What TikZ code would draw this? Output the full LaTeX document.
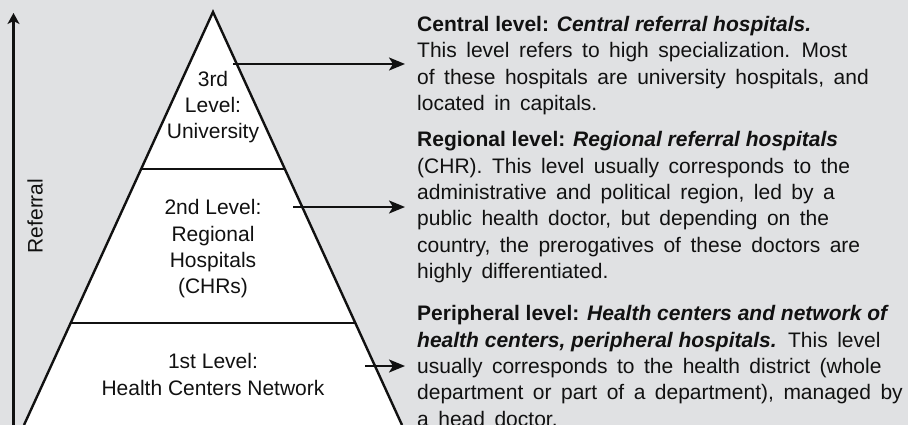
\documentclass[tikz,border=0pt]{standalone}
\usepackage{fontspec}
\setmainfont{Liberation Sans}
\usetikzlibrary{arrows.meta,calc}
\definecolor{bggray}{RGB}{224,225,227}
\definecolor{ink}{RGB}{17,17,17}
% body text with slightly wider word spacing
\newcommand\parafont{\fontsize{21}{26.3}\selectfont\spaceskip 9.5pt\relax}
% bold run-in headings keep the font's own word spacing
\newcommand\headrun[1]{{\spaceskip 0pt\relax\textbf{#1}}}
\tikzset{
  txt/.style={font=\fontsize{21}{26.3}\selectfont, text=ink, inner sep=0pt},
  levellabel/.style={txt, align=center},
  para/.style={txt, font=\parafont, align=left, anchor=north west},
  edge/.style={line width=2.4pt, draw=ink, line join=miter},
  pointer/.style={line width=2.4pt, draw=ink, -{Stealth[length=16pt,width=13pt,inset=4pt]}},
}
\begin{document}
\begin{tikzpicture}[x=1pt,y=-1pt]
  \fill[bggray] (0,0) rectangle (908,425);
  \useasboundingbox (0,0) rectangle (908,425);

  % pyramid corners
  \coordinate (apex) at (213,12);
  \coordinate (bl) at (24,425);
  \coordinate (br) at (402,425);
  \fill[white] (bl) -- (apex) -- (br) -- cycle;
  \draw[edge] (bl) -- (apex) -- (br);

  % level boundaries
  \coordinate (d1l) at ($(apex)!0.3801!(bl)$);
  \coordinate (d1r) at ($(apex)!0.3801!(br)$);
  \coordinate (d2l) at ($(apex)!0.7530!(bl)$);
  \coordinate (d2r) at ($(apex)!0.7530!(br)$);
  \draw[edge] (d1l) -- (d1r);
  \draw[edge] (d2l) -- (d2r);

  % level labels
  \node[levellabel] (l3) at (213,107) {3rd\\Level:\\University};
  \node[levellabel] (l2) at (213,249) {2nd Level:\\Regional\\Hospitals\\(CHRs)};
  \node[levellabel] (l1) at (213,374.5) {1st Level:\\Health Centers Network};

  % referral axis
  \coordinate (rbot) at (13.5,425);
  \coordinate (rtop) at (13.5,13);
  \draw[line width=2.4pt, draw=ink, -{Stealth[length=11pt,width=12pt,inset=3pt]}] (rbot) -- (rtop);
  \node[txt, rotate=90] (ref) at (35,216) {Referral};

  % descriptions
  \node[para] (p1) at (417,16) {\headrun{Central level: \textit{Central referral hospitals.}}\\
    This level refers to high specialization. Most\\
    of these hospitals are university hospitals, and\\
    located in capitals.};
  \node[para] (p2) at (417,131.5) {\headrun{Regional level: \textit{Regional referral hospitals}}\\
    (CHR). This level usually corresponds to the\\
    administrative and political region, led by a\\
    public health doctor, but depending on the\\
    country, the prerogatives of these doctors are\\
    highly differentiated.};
  \node[para] (p3) at (417,305.5) {\headrun{Peripheral level: \textit{Health centers and network of}}\\
    \headrun{\textit{health centers, peripheral hospitals.}} This level\\
    usually corresponds to the health district (whole\\
    department or part of a department), managed by\\
    a head doctor.};

  % pointers from levels to descriptions
  \coordinate (s3) at (233,64);
  \coordinate (s2) at (293,207);
  \coordinate (s1) at (365,366);
  \draw[pointer, shorten >=12pt] (s3) -- (s3 -| p1.west);
  \draw[pointer, shorten >=12pt] (s2) -- (s2 -| p2.west);
  \draw[pointer, shorten >=12pt] (s1) -- (s1 -| p3.west);
\end{tikzpicture}
\end{document}
